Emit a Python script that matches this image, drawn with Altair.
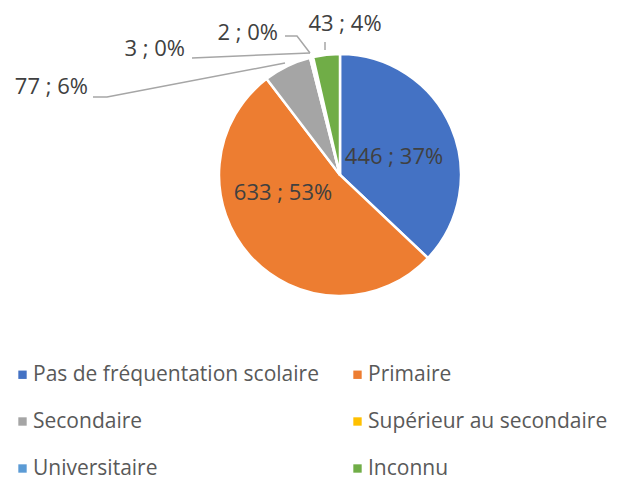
import altair as alt
import pandas as pd

# ---- data ----
categories = ["Pas de fréquentation scolaire", "Primaire", "Secondaire",
              "Supérieur au secondaire", "Universitaire", "Inconnu"]
values = [446, 633, 77, 3, 2, 43]
colors = ["#4472C4", "#ED7D31", "#A5A5A5", "#FFC000", "#5B9BD5", "#70AD47"]

total = sum(values)
labels = [f"{v} ; {round(v / total * 100)}%" for v in values]

df = pd.DataFrame({"cat": categories, "value": values,
                   "order": list(range(len(values))), "label": labels})

# ---- layout (pixel positions inside the plot area) ----
W, H = 608, 472
CX, CY, R = 332, 167, 121
FONT = "Open Sans"
FS = 22
LFS = 21

# label anchor positions: (x, y, align)
label_pos = [
    (386, 149, "center"),
    (275, 185, "center"),
    (80, 79, "right"),
    (177, 41, "right"),
    (270, 25, "right"),
    (337, 16, "center"),
]
lab_df = pd.DataFrame({
    "label": labels,
    "px": [p[0] for p in label_pos],
    "py": [p[1] for p in label_pos],
    "align": [p[2] for p in label_pos],
})

# leader lines: segment id, point order, x, y
leader_pts = [
    ("s77", 0, 85, 89), ("s77", 1, 99, 89), ("s77", 2, 277, 55),
    ("s3", 0, 184, 50), ("s3", 1, 302, 45),
    ("s2", 0, 277, 28), ("s2", 1, 289, 28), ("s2", 2, 302, 45),
    ("s43", 0, 317, 34), ("s43", 1, 317, 42),
]
lead_df = pd.DataFrame(leader_pts, columns=["seg", "o", "px", "py"])

pie = alt.Chart(df).mark_arc(
    x=CX, y=CY, outerRadius=R, stroke="white", strokeWidth=2.5
).encode(
    theta=alt.Theta("value:Q", stack=True),
    order=alt.Order("order:Q"),
    color=alt.Color(
        "cat:N",
        scale=alt.Scale(domain=categories, range=colors),
        sort=categories,
        legend=alt.Legend(
            title=None, orient="none", legendX=4, legendY=356,
            direction="horizontal", columns=2, columnPadding=28,
            rowPadding=25, symbolType="square", symbolSize=70,
            symbolStrokeWidth=0, labelFontSize=LFS, labelFont=FONT,
            labelOffset=0, labelColor="#595959", labelLimit=400, padding=0,
        ),
    ),
)

xs = alt.X("px:Q", scale=None, axis=None)
ys = alt.Y("py:Q", scale=None, axis=None)

leaders = alt.Chart(lead_df).mark_line(
    color="#A6A6A6", strokeWidth=1.5
).encode(x=xs, y=ys, detail="seg:N", order="o:Q")

text_layers = []
for al in ["center", "right"]:
    text_layers.append(
        alt.Chart(lab_df[lab_df["align"] == al]).mark_text(
            font=FONT, fontSize=FS, color="#404040", baseline="middle", align=al
        ).encode(x=xs, y=ys, text="label:N")
    )

chart = alt.layer(pie, leaders, *text_layers).properties(
    width=W, height=H, autosize=alt.AutoSizeParams(type="none"), padding=0
).configure(background="white").configure_view(stroke=None)

chart.save("out.html", embed_options={"renderer": "svg", "actions": False})
